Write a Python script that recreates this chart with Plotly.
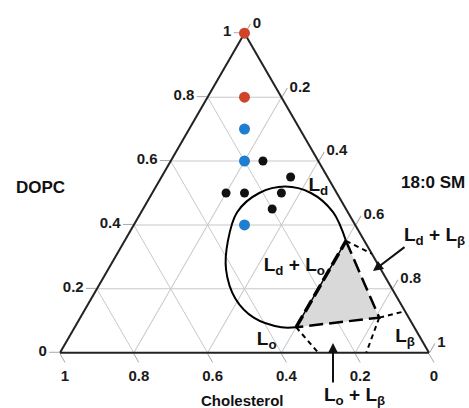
import plotly.graph_objects as go

# ---------------- data (ternary fractions: a = DOPC, b = Cholesterol, c = 18:0 SM)
red_dopc = [1.0, 0.8]
red_chol = [0.0, 0.1]
red_sm = [0.0, 0.1]

blue_dopc = [0.7, 0.6, 0.4]
blue_chol = [0.15, 0.2, 0.3]
blue_sm = [0.15, 0.2, 0.3]

black_dopc = [0.6, 0.55, 0.5, 0.5, 0.5, 0.45]
black_chol = [0.15, 0.1, 0.3, 0.25, 0.15, 0.2]
black_sm = [0.25, 0.35, 0.2, 0.25, 0.35, 0.35]

# Ld + Lo coexistence boundary
bnd_dopc = [0.35, 0.44, 0.50, 0.52, 0.50, 0.44, 0.35, 0.26, 0.17, 0.11, 0.08, 0.08]
bnd_chol = [0.05, 0.04, 0.07, 0.13, 0.21, 0.30, 0.37, 0.42, 0.44, 0.42, 0.36, 0.32]
bnd_sm = [0.60, 0.52, 0.43, 0.35, 0.29, 0.26, 0.28, 0.32, 0.39, 0.47, 0.56, 0.60]

# three-phase triangle vertices: Ld, Lo, Lbeta
tri_dopc = [0.35, 0.08, 0.11]
tri_chol = [0.05, 0.32, 0.08]
tri_sm = [0.60, 0.60, 0.81]

# tie lines from triangle vertices to the edges
tie_ld_edge = ([0.35, 0.31], [0.05, 0.0], [0.60, 0.69])
tie_lb_edge = ([0.11, 0.13], [0.08, 0.0], [0.81, 0.87])
tie_lb_base = ([0.11, 0.0], [0.08, 0.17], [0.81, 0.83])
tie_lo_base = ([0.08, 0.0], [0.32, 0.30], [0.60, 0.70])

# phase labels placed at compositions
lab_text = ["L<sub>d</sub>", "L<sub>d</sub> + L<sub>o</sub>", "L<sub>o</sub>", "L<sub>β</sub>"]
lab_dopc = [0.52, 0.27, 0.04, 0.05]
lab_chol = [0.04, 0.23, 0.42, 0.04]
lab_sm = [0.44, 0.50, 0.54, 0.91]

tick_vals = [0, 0.2, 0.4, 0.6, 0.8, 1]
tick_text = ["0", "0.2", "0.4", "0.6", "0.8", "1"]

FONT = "Liberation Sans, Arial, sans-serif"

fig = go.Figure()

# grey three-phase region
fig.add_trace(go.Scatterternary(
    a=tri_dopc, b=tri_chol, c=tri_sm, mode="lines", fill="toself",
    fillcolor="#d9d9d9", line=dict(width=0), hoverinfo="skip", showlegend=False))

# coexistence boundary curve
fig.add_trace(go.Scatterternary(
    a=bnd_dopc, b=bnd_chol, c=bnd_sm, mode="lines",
    line=dict(color="black", width=2, shape="spline", smoothing=1.0),
    hoverinfo="skip", showlegend=False))

# triangle edges
fig.add_trace(go.Scatterternary(
    a=[tri_dopc[1], tri_dopc[0]], b=[tri_chol[1], tri_chol[0]], c=[tri_sm[1], tri_sm[0]],
    mode="lines", line=dict(color="black", width=1.5), hoverinfo="skip", showlegend=False))
fig.add_trace(go.Scatterternary(
    a=[tri_dopc[1], tri_dopc[0]], b=[tri_chol[1], tri_chol[0]], c=[tri_sm[1], tri_sm[0]],
    mode="lines", line=dict(color="black", width=3.5, dash="13px,5px"),
    hoverinfo="skip", showlegend=False))
fig.add_trace(go.Scatterternary(
    a=[tri_dopc[0], tri_dopc[2], tri_dopc[1]], b=[tri_chol[0], tri_chol[2], tri_chol[1]],
    c=[tri_sm[0], tri_sm[2], tri_sm[1]],
    mode="lines", line=dict(color="black", width=2.5, dash="14px,6px"),
    hoverinfo="skip", showlegend=False))

for t in (tie_ld_edge, tie_lb_edge, tie_lb_base, tie_lo_base):
    fig.add_trace(go.Scatterternary(
        a=t[0], b=t[1], c=t[2], mode="lines",
        line=dict(color="black", width=2, dash="5px,4px"),
        hoverinfo="skip", showlegend=False))

# data points
fig.add_trace(go.Scatterternary(a=red_dopc, b=red_chol, c=red_sm, mode="markers",
                                marker=dict(color="#d0432b", size=11), cliponaxis=False,
                                showlegend=False))
fig.add_trace(go.Scatterternary(a=blue_dopc, b=blue_chol, c=blue_sm, mode="markers",
                                marker=dict(color="#1f7fcf", size=11), cliponaxis=False,
                                showlegend=False))
fig.add_trace(go.Scatterternary(a=black_dopc, b=black_chol, c=black_sm, mode="markers",
                                marker=dict(color="#111111", size=9), cliponaxis=False,
                                showlegend=False))

# phase labels
fig.add_trace(go.Scatterternary(
    a=lab_dopc, b=lab_chol, c=lab_sm, mode="text", text=lab_text,
    textposition="middle center", cliponaxis=False,
    textfont=dict(family=FONT, size=19, color="#111", weight="bold"),
    hoverinfo="skip", showlegend=False))

axis_common = dict(
    title=dict(text=""), tickmode="array", tickvals=tick_vals, ticktext=tick_text,
    ticks="outside", ticklen=10, tickwidth=1, tickcolor="#a8a8a8",
    tickfont=dict(family=FONT, size=15, color="#1a1a1a", weight="bold"),
    showline=True, linecolor="#222", linewidth=2, layer="below traces",
    showgrid=True, gridcolor="#c8c8c8", gridwidth=1, min=0)

L, R, T, B = 60, 40, 33, 55
W, H = 469, 408


def paper(px, py):
    return (px - L) / (W - L - R), 1 - (py - T) / (H - T - B)


annos = []
for txt, px, py, size in [("DOPC", 40, 187, 17), ("18:0 SM", 433, 182, 17),
                          ("Cholesterol", 242, 400, 15),
                          ("L<sub>d</sub> + L<sub>β</sub>", 434, 236, 19),
                          ("L<sub>o</sub> + L<sub>β</sub>", 354, 396, 19)]:
    x, y = paper(px, py)
    annos.append(dict(x=x, y=y, xref="paper", yref="paper", text=txt, showarrow=False,
                      xanchor="center", yanchor="middle",
                      font=dict(family=FONT, size=size, color="#111", weight="bold")))

for tip, tail in [((373, 271), (406, 246)), ((333, 343), (333, 384))]:
    x, y = paper(*tip)
    annos.append(dict(x=x, y=y, xref="paper", yref="paper", text="", showarrow=True,
                      ax=tail[0] - tip[0], ay=tail[1] - tip[1], arrowhead=2,
                      arrowsize=1, arrowwidth=2, arrowcolor="#111", standoff=0))

fig.update_layout(
    width=W, height=H,
    margin=dict(l=L, r=R, t=T, b=B),
    paper_bgcolor="white",
    ternary=dict(sum=1, bgcolor="white", domain=dict(x=[0, 1], y=[0, 1]),
                 aaxis=axis_common, baxis=axis_common, caxis=axis_common),
    annotations=annos,
    showlegend=False,
)

fig.write_html("out.html", config={"displayModeBar": False},
               post_script="document.body.style.margin='0px';")
